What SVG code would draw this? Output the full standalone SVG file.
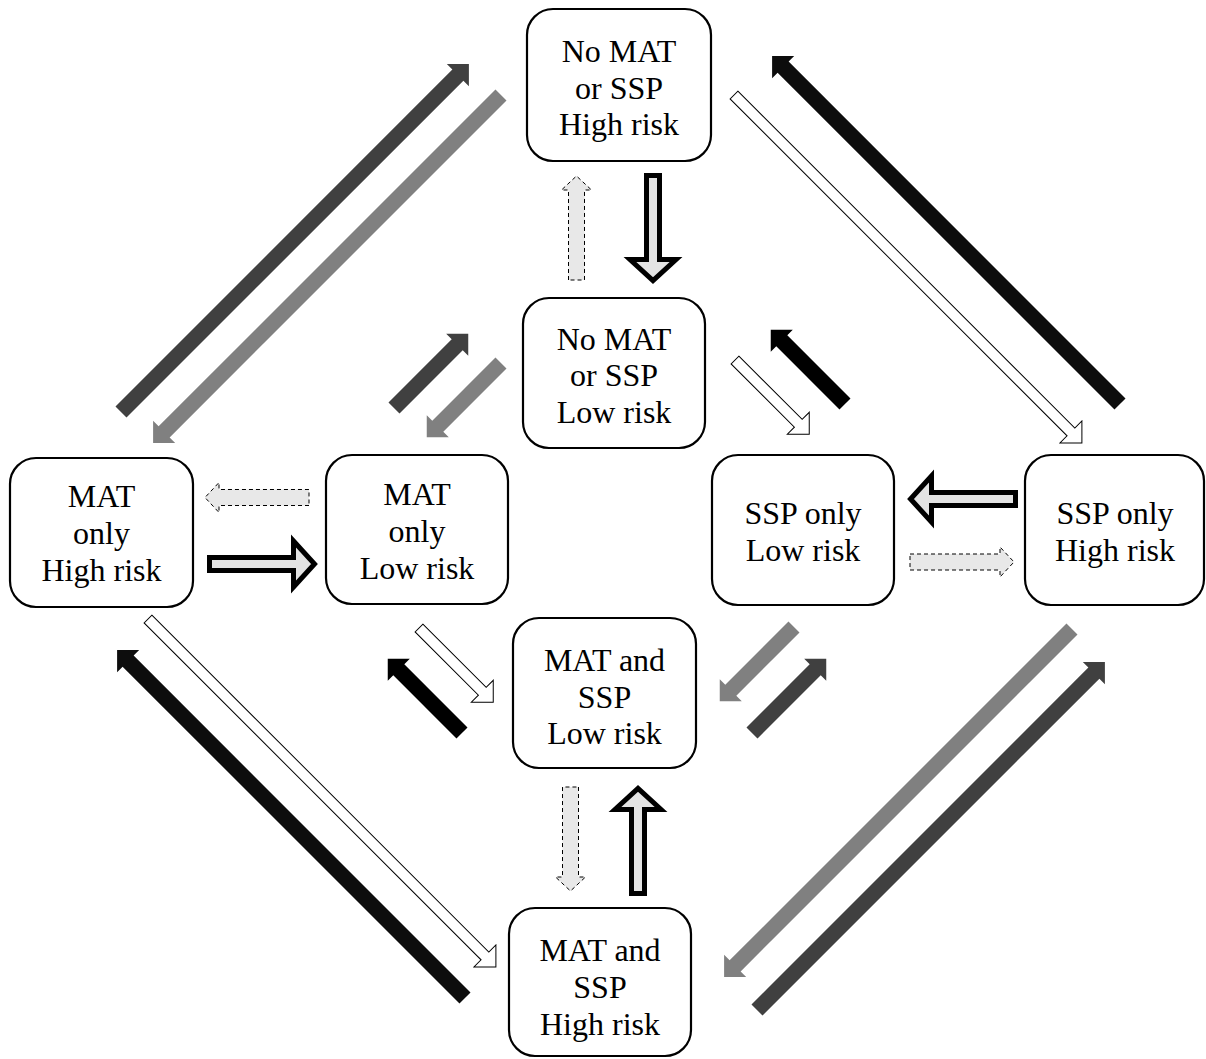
<svg xmlns="http://www.w3.org/2000/svg" width="1206" height="1059" viewBox="0 0 1206 1059">
<style>
.box{fill:#fff;stroke:#000;stroke-width:2.2}
.lbl{font-size:32px;fill:#000;text-anchor:middle}
.dark{fill:#404040}
.gray{fill:#808080}
.blk{fill:#0d0d0d}
.blk2{fill:#000}
.wht{fill:#fff;stroke:#000;stroke-width:1}
.thick{fill:#e3e3e3;stroke:#000;stroke-width:5;stroke-linejoin:miter;stroke-miterlimit:10}
.dash{fill:#e8e8e8;stroke:#000;stroke-width:1;stroke-dasharray:4 3}
</style>
<defs>
<path id="bigSolid" d="M0,-7.8 H476.4 V-15.6 L492,0 L476.4,15.6 V7.8 H0 Z"/>
<path id="smallSolid" d="M0,-7.8 H89.4 V-15.6 L105,0 L89.4,15.6 V7.8 H0 Z"/>
<path id="bigHollow" d="M0,-5.5 H476.5 V-15.5 L492,0 L476.5,15.5 V5.5 H0 Z"/>
<path id="smallHollow" d="M0,-5.5 H89.5 V-15.5 L105,0 L89.5,15.5 V5.5 H0 Z"/>
<path id="thickArrow" d="M0,-6.5 H84 V-23 L105,0 L84,23 V6.5 H0 Z"/>
<path id="dashArrow" d="M0,-8 H90 V-15 L104,0 L90,15 V8 H0 Z"/>
</defs>

<g id="connectors">
  <use href="#bigSolid" class="dark" transform="translate(121,412) rotate(-45)"/>
  <use href="#bigSolid" class="gray" transform="translate(501,95) rotate(135)"/>
  <use href="#bigSolid" class="blk" transform="translate(1120,404) rotate(-135)"/>
  <use href="#bigHollow" class="wht" transform="translate(734,95) rotate(45)"/>
  <use href="#bigHollow" class="wht" transform="translate(148,619) rotate(45)"/>
  <use href="#bigSolid" class="blk" transform="translate(465,998) rotate(-135)"/>
  <use href="#bigSolid" class="gray" transform="translate(1072,629) rotate(135)"/>
  <use href="#bigSolid" class="dark" transform="translate(757,1010) rotate(-45)"/>
  <use href="#smallSolid" class="dark" transform="translate(394,408) rotate(-45)"/>
  <use href="#smallSolid" class="gray" transform="translate(501,363) rotate(135)"/>
  <use href="#smallSolid" class="blk2" transform="translate(845,404) rotate(-135)"/>
  <use href="#smallHollow" class="wht" transform="translate(735,360) rotate(45)"/>
  <use href="#smallHollow" class="wht" transform="translate(419,628) rotate(45)"/>
  <use href="#smallSolid" class="blk2" transform="translate(462,733) rotate(-135)"/>
  <use href="#smallSolid" class="gray" transform="translate(794,627) rotate(135)"/>
  <use href="#smallSolid" class="dark" transform="translate(752,733) rotate(-45)"/>
  <use href="#dashArrow" class="dash" transform="translate(576.5,280) rotate(-90)"/>
  <use href="#thickArrow" class="thick" transform="translate(653,175.5) rotate(90)"/>
  <use href="#dashArrow" class="dash" transform="translate(309,497.5) rotate(180)"/>
  <use href="#thickArrow" class="thick" transform="translate(209.5,564)"/>
  <use href="#thickArrow" class="thick" transform="translate(1015.5,499) rotate(180)"/>
  <use href="#dashArrow" class="dash" transform="translate(910,562)"/>
  <use href="#dashArrow" class="dash" transform="translate(570.5,787) rotate(90)"/>
  <use href="#thickArrow" class="thick" transform="translate(638,893.5) rotate(-90)"/>
</g>

<g font-family="'Liberation Serif', 'Times New Roman', 'DejaVu Serif', serif">
<g id="node-nomat-high">
  <rect class="box" x="527" y="9" width="184" height="152" rx="26"/>
  <text class="lbl" x="619" y="62">No MAT</text>
  <text class="lbl" x="619" y="98.5">or SSP</text>
  <text class="lbl" x="619" y="135">High risk</text>
</g>
<g id="node-nomat-low">
  <rect class="box" x="523" y="298" width="182" height="150" rx="26"/>
  <text class="lbl" x="614" y="349.5">No MAT</text>
  <text class="lbl" x="614" y="386">or SSP</text>
  <text class="lbl" x="614" y="422.5">Low risk</text>
</g>
<g id="node-mat-high">
  <rect class="box" x="10" y="458" width="183" height="149" rx="26"/>
  <text class="lbl" x="101.5" y="507">MAT</text>
  <text class="lbl" x="101.5" y="544">only</text>
  <text class="lbl" x="101.5" y="581">High risk</text>
</g>
<g id="node-mat-low">
  <rect class="box" x="326" y="455" width="182" height="149" rx="26"/>
  <text class="lbl" x="417" y="505">MAT</text>
  <text class="lbl" x="417" y="542">only</text>
  <text class="lbl" x="417" y="579">Low risk</text>
</g>
<g id="node-ssp-low">
  <rect class="box" x="712" y="455" width="182" height="150" rx="26"/>
  <text class="lbl" x="803" y="524">SSP only</text>
  <text class="lbl" x="803" y="561">Low risk</text>
</g>
<g id="node-ssp-high">
  <rect class="box" x="1025" y="455" width="179" height="150" rx="26"/>
  <text class="lbl" x="1115" y="524">SSP only</text>
  <text class="lbl" x="1115" y="561">High risk</text>
</g>
<g id="node-both-low">
  <rect class="box" x="513" y="618" width="183" height="150" rx="26"/>
  <text class="lbl" x="604.5" y="671">MAT and</text>
  <text class="lbl" x="604.5" y="708">SSP</text>
  <text class="lbl" x="604.5" y="744">Low risk</text>
</g>
<g id="node-both-high">
  <rect class="box" x="509" y="908" width="182" height="148" rx="26"/>
  <text class="lbl" x="600" y="961">MAT and</text>
  <text class="lbl" x="600" y="998">SSP</text>
  <text class="lbl" x="600" y="1035">High risk</text>
</g>
</g>
</svg>
